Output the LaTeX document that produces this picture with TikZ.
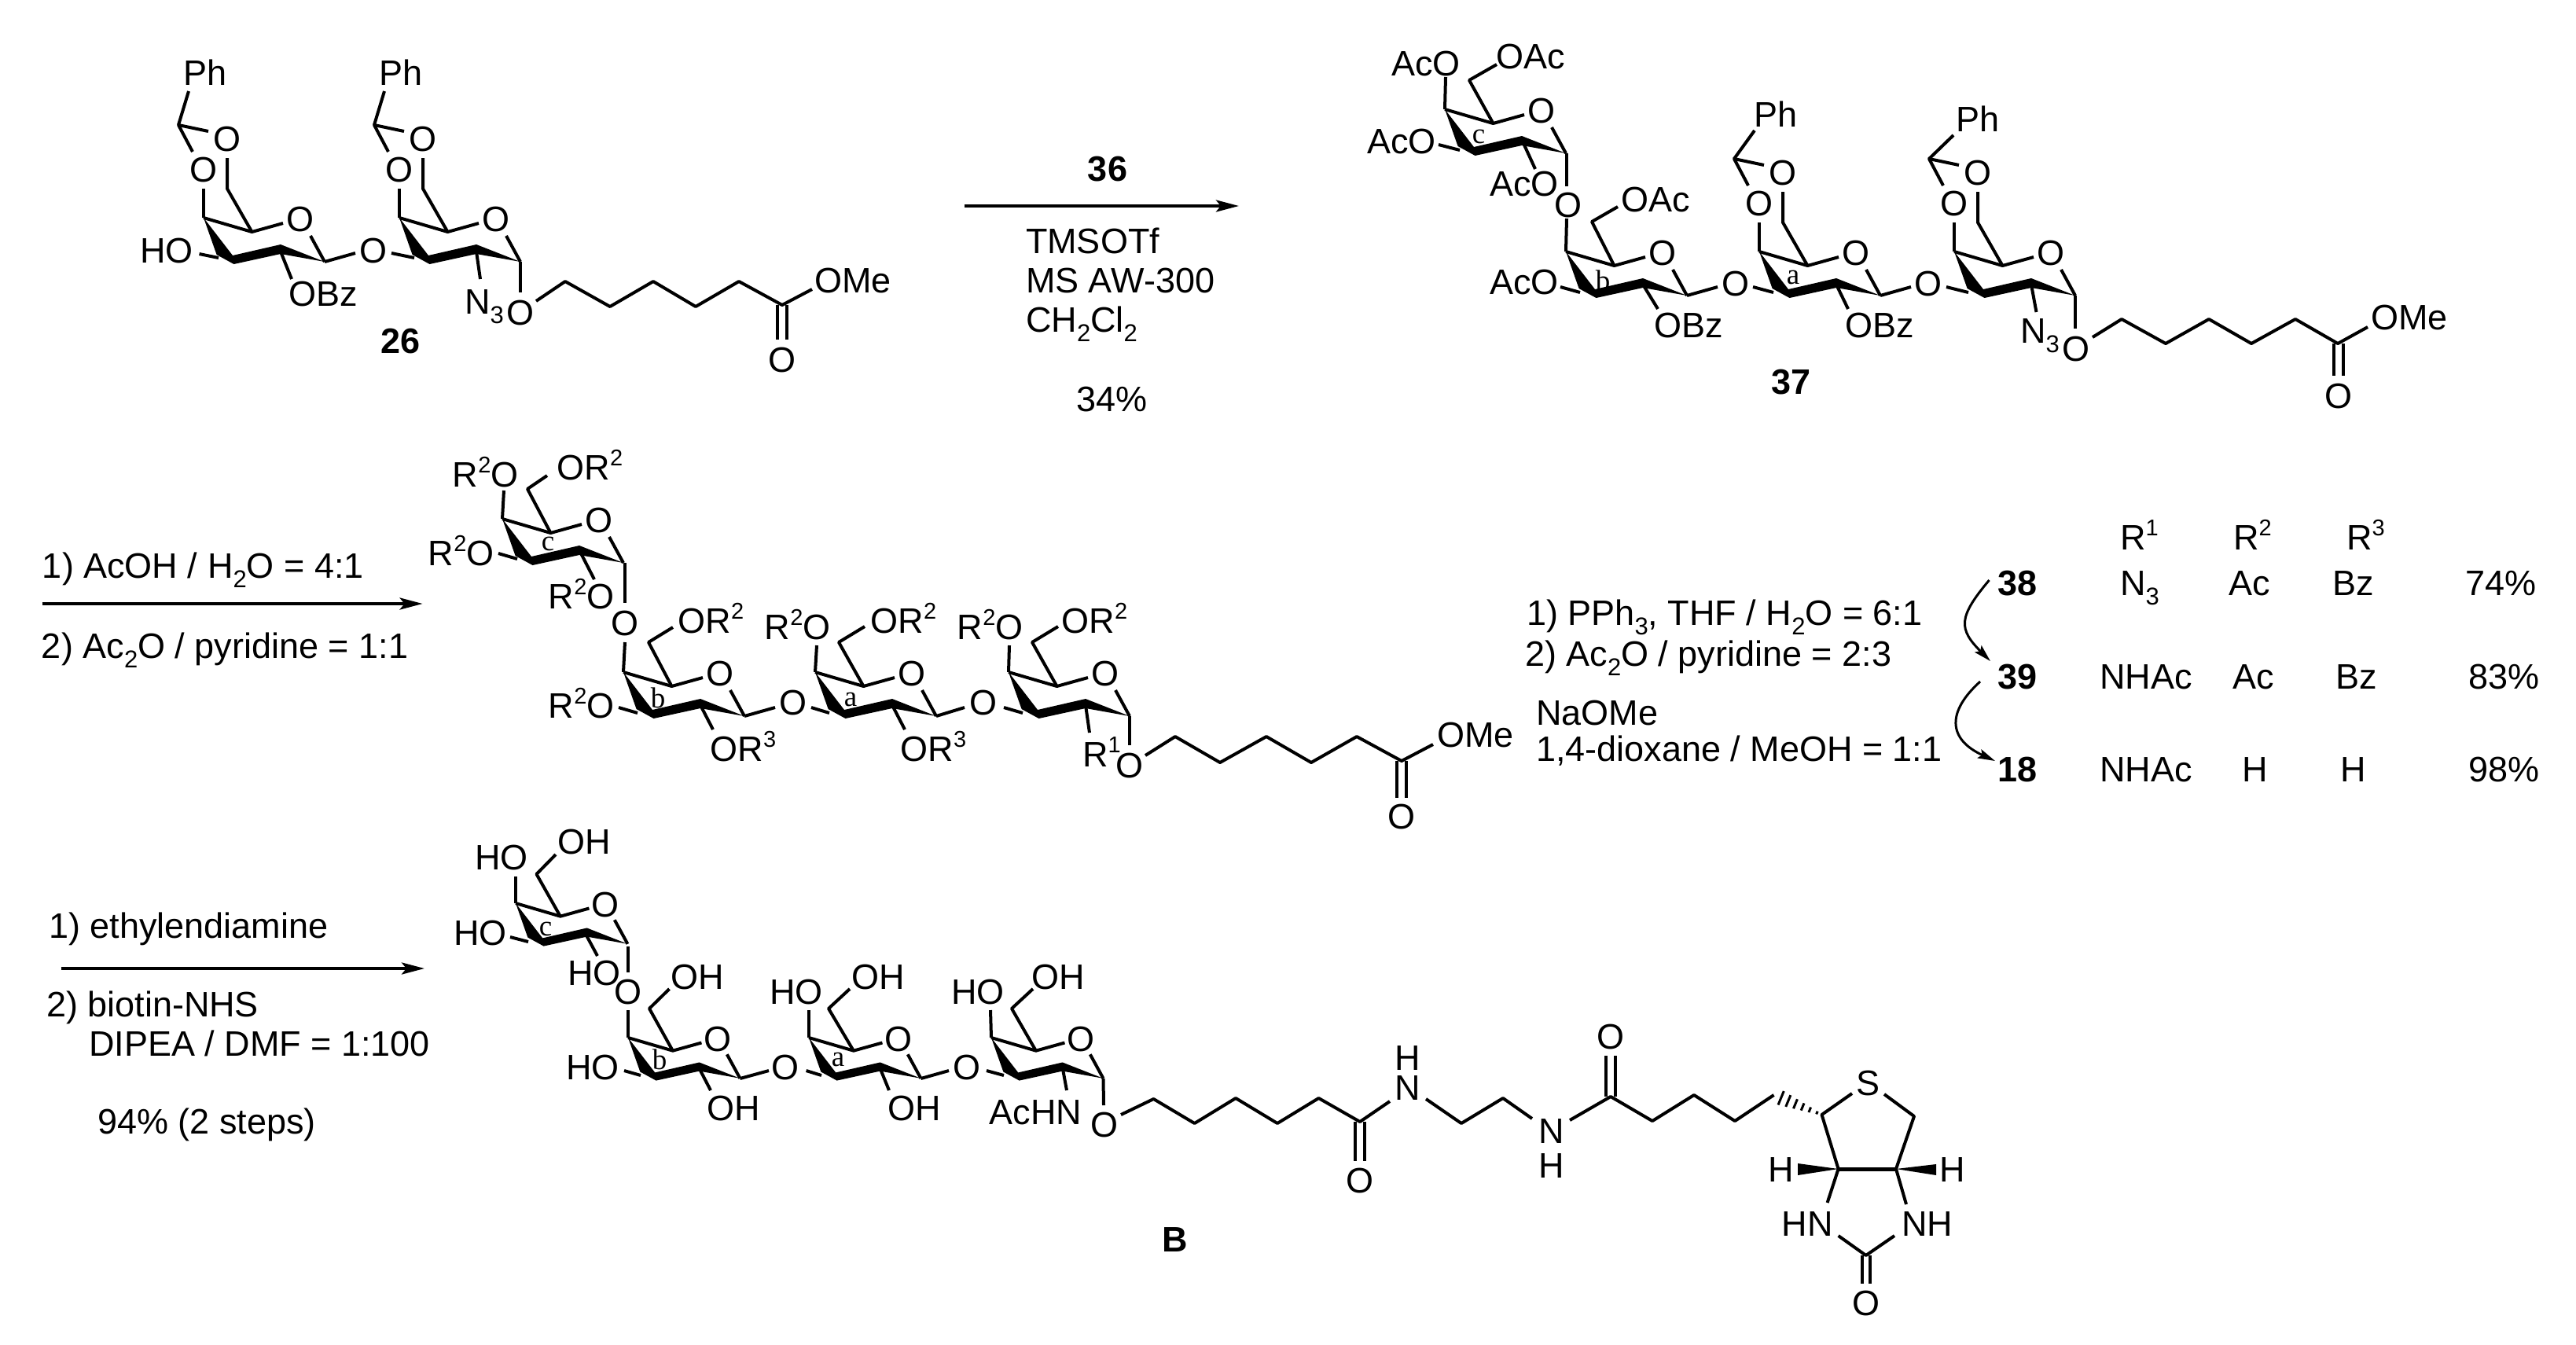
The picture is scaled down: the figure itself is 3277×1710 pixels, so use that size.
\documentclass[tikz,border=0pt]{standalone}
\usepackage{fontspec}
\setmainfont{Liberation Sans}
\newfontfamily\abcfont{Liberation Serif}
\usetikzlibrary{arrows.meta}
\newcounter{lb}
\newcommand\sbs[1]{\raisebox{-6pt}{\fontsize{15.5}{15.5}\selectfont #1}}
\newcommand\sps[1]{\raisebox{9pt}{\fontsize{14.5}{14.5}\selectfont #1}}
\newcommand\txtW[3]{\stepcounter{lb}\node[lab,anchor=base west] (n\arabic{lb}) at ({#1},{#2}) {#3};}
\newcommand\txtE[3]{\stepcounter{lb}\node[lab,anchor=base east] (n\arabic{lb}) at ({#1},{#2}) {#3};}
\newcommand\txtC[3]{\stepcounter{lb}\node[lab,anchor=base] (n\arabic{lb}) at ({#1},{#2}) {#3};}
\newcommand\labC[3]{\txtC{#1}{#2+16.5}{#3}}
\newcommand\labE[3]{\txtE{#1+17.5}{#2+16.5}{#3}}
\newcommand\labW[3]{\txtW{#1-17.5}{#2+16.5}{#3}}
\newcommand\abc[3]{\stepcounter{lb}\node[lab,font=\abcfont\fontsize{18.5}{18.5}\selectfont] (n\arabic{lb}) at ({#1},{#2}) {#3};}
\newcommand\ringcore[3]{%
  \begin{scope}[shift={(#1,#2)},scale=#3]
    \fill (0,0)--(37,48)--(98,34)--(154,56)--(98,46)--(38.5,59)--(16.6,47)--cycle;
    \draw[bond] (0,0)--(61.5,18)--(101,7);
    \draw[bond] (136,23)--(154,56);
  \end{scope}
  \labC{#1+123*#3}{#2+1*#3}{O}}
% benzylidene: ring origin x,y; Ph label; Ph bond end
\newcommand\bnz[6]{%
  \begin{scope}[shift={(#1,#2)}]
    \draw[bond] (0,0)--(0,-37);
    \draw[bond] (61.5,18)--(30,-37)--(30,-76);
    \draw[bond] (-14,-84)--(-32,-118)--(6,-110);
    \draw[bond] (-32,-118)--(#5,#6);
    \labC{30}{-101}{O}
    \labC{0}{-62}{O}
    \labC{#3}{#4}{Ph}
  \end{scope}}
\tikzset{
  bond/.style={line width=2pt,line join=round},
  lab/.style={inner sep=0pt,outer sep=0pt,font=\fontsize{22.5}{22.5}\selectfont},
  rxn/.style={line width=2pt,-{Stealth[length=14.5pt,width=7.5pt,inset=3pt]}},
  curl/.style={line width=1.5pt,-{Stealth[length=11pt,width=6pt,inset=2pt]}}
}
\begin{document}
\begin{tikzpicture}[x=0.5pt,y=-0.5pt]
\useasboundingbox (0,0) rectangle (3277,1710);
\fill[white] (0,0) rectangle (3277,1710);

% ---------- 26
\ringcore{259}{277}{1}
\ringcore{508}{277}{1}
\bnz{259}{277}{2}{-185}{-19}{-161}
\bnz{508}{277}{2}{-185}{-19}{-161}
\labE{228}{318}{HO}
\draw[bond] (253.5,323)--(278,328);
\draw[bond] (357,320)--(371,355);
\labW{385}{373}{OBz}
\draw[bond] (413,333)--(452,322);
\labC{475}{318}{O}
\draw[bond] (498,322)--(527,328);
\draw[bond] (606,320)--(611,355);
\txtW{591}{399.5}{N\sbs{3}}
\draw[bond] (662,333)--(662,372);
\labC{662}{397}{O}
\draw[bond] (682,383)--(719,358)--(776,390)--(831,358)--(885,390)--(940,358)--(995,388)--(1033,368);
\txtW{1036}{372.5}{OMe}
\draw[bond] (989,388)--(989,432);
\draw[bond] (1001,388)--(1001,432);
\labC{995}{457}{O}
\txtC{510}{449}{\bfseries 26}

% ---------- first arrow
\coordinate (a1s) at (1227,262);
\coordinate (a1e) at (1576,262);
\draw[rxn] (a1s)--(a1e);
\txtC{1409}{230}{\bfseries 36}
\txtW{1305}{322}{TMSOTf}
\txtW{1305}{372}{MS AW-300}
\txtW{1305}{422}{CH\sbs{2}Cl\sbs{2}}
\txtW{1369}{523}{34\%}

% ---------- 37
\ringcore{1838}{139}{1}
\ringcore{1992}{320}{1}
\ringcore{2238}{320}{1}
\ringcore{2486}{320}{1}
\bnz{2238}{320}{21}{-175}{-6}{-154}
\bnz{2486}{320}{30}{-169}{-1}{-148}
\labE{1840}{80}{AcO}
\draw[bond] (1839,98)--(1838,139);
\draw[bond] (1899.5,157)--(1869,102)--(1904,82);
\labW{1921}{71}{OAc}
\labE{1809}{179}{AcO}
\draw[bond] (1830,184)--(1857,191);
\draw[bond] (1937,180)--(1953,215);
\labE{1965}{233}{AcO}
\draw[bond] (1993,195)--(1993,237);
\labC{1995}{260}{O}
\draw[bond] (1993,278)--(1992,320);
\draw[bond] (2053.5,338)--(2025,282)--(2058,263);
\labW{2080}{253}{OAc}
\labE{1965}{358}{AcO}
\draw[bond] (1985,365)--(2010,372);
\draw[bond] (2090,362)--(2109,393);
\labW{2122}{413}{OBz}
\draw[bond] (2146,376)--(2185,365);
\labC{2208}{360}{O}
\draw[bond] (2230,365)--(2256,372);
\draw[bond] (2336,362)--(2351,393);
\labW{2365}{413}{OBz}
\draw[bond] (2392,376)--(2431,365);
\labC{2453}{360}{O}
\draw[bond] (2476,365)--(2504,372);
\draw[bond] (2584,362)--(2590.5,397);
\txtW{2570}{436.5}{N\sbs{3}}
\draw[bond] (2640,376)--(2640,418);
\labC{2641}{443}{O}
\draw[bond] (2662,429)--(2699,406)--(2755,437)--(2810,406)--(2864,437)--(2920,406)--(2974,437)--(3012,416);
\txtW{3016}{419.5}{OMe}
\draw[bond] (2969,437)--(2969,478);
\draw[bond] (2981,437)--(2981,478);
\labC{2975}{503}{O}
\abc{1881}{174}{c}
\abc{2039}{357}{b}
\abc{2281}{353}{a}
\txtC{2278}{501}{\bfseries 37}

% ---------- second arrow
\coordinate (a2s) at (53.5,768);
\coordinate (a2e) at (537.6,768);
\draw[rxn] (a2s)--(a2e);
\txtW{54}{735}{1) AcOH / H\sbs{2}O = 4:1}
\txtW{53}{837}{2) Ac\sbs{2}O / pyridine = 1:1}

% ---------- R-series
\ringcore{639}{660}{1}
\ringcore{793}{855}{1}
\ringcore{1037}{855}{1}
\ringcore{1283}{855}{1}
\labE{642}{603}{R\sps{2}O}
\draw[bond] (641,624)--(639,660);
\draw[bond] (700.5,678)--(671,622)--(696,605);
\labW{726}{594}{OR\sps{2}}
\labE{611}{703}{R\sps{2}O}
\draw[bond] (634,704)--(658,711);
\draw[bond] (737,700)--(756,737);
\labE{764}{758}{R\sps{2}O}
\draw[bond] (795,716)--(795,767);
\labC{795}{792}{O}
\draw[bond] (795,817)--(793,855);
\draw[bond] (854.5,873)--(825,817)--(856,798);
\labW{880}{789}{OR\sps{2}}
\labE{764}{897}{R\sps{2}O}
\draw[bond] (787,900)--(811,907);
\draw[bond] (891,897)--(907,928);
\labW{921}{952}{OR\sps{3}}
\draw[bond] (947,911)--(986,900);
\labC{1009}{893}{O}
\draw[bond] (1032,900)--(1055,907);
\labE{1039}{797}{R\sps{2}O}
\draw[bond] (1039,821)--(1037,855);
\draw[bond] (1098.5,873)--(1067,817)--(1100,797);
\labW{1125}{789}{OR\sps{2}}
\draw[bond] (1135,897)--(1151,928);
\labW{1163}{952}{OR\sps{3}}
\draw[bond] (1191,911)--(1227,900);
\labC{1251}{893}{O}
\draw[bond] (1277,900)--(1301,907);
\labE{1284}{797}{R\sps{2}O}
\draw[bond] (1284,821)--(1283,855);
\draw[bond] (1344.5,873)--(1313,817)--(1346,797);
\labW{1368}{789}{OR\sps{2}}
\draw[bond] (1381,897)--(1386,932);
\txtW{1377}{975}{R\sps{1}}
\draw[bond] (1437,911)--(1437,948);
\labC{1437}{973}{O}
\draw[bond] (1457,961)--(1495,937)--(1552,970)--(1611,937)--(1668,970)--(1726,937)--(1783,968)--(1823,947);
\txtW{1828}{950}{OMe}
\draw[bond] (1777,968)--(1777,1015);
\draw[bond] (1789,968)--(1789,1015);
\labC{1783}{1038}{O}
\abc{697}{692}{c}
\abc{837}{888}{b}
\abc{1082}{890}{a}

% ---------- table
\txtW{1942}{795}{1) PPh\sbs{3}, THF / H\sbs{2}O = 6:1}
\txtW{1940}{847}{2) Ac\sbs{2}O / pyridine = 2:3}
\txtW{1954}{922}{NaOMe}
\txtW{1954}{968}{1,4-dioxane / MeOH = 1:1}
\txtW{2697}{699}{R\sps{1}}
\txtW{2841}{699}{R\sps{2}}
\txtW{2985}{699}{R\sps{3}}
\txtW{2541}{757}{\bfseries 38}
\txtW{2541}{876}{\bfseries 39}
\txtW{2541}{994}{\bfseries 18}
\txtW{2697}{757}{N\sbs{3}}
\txtW{2835}{757}{Ac}
\txtW{2967}{757}{Bz}
\txtW{3136}{757}{74\%}
\txtW{2671}{876}{NHAc}
\txtW{2840}{876}{Ac}
\txtW{2971}{876}{Bz}
\txtW{3140}{876}{83\%}
\txtW{2671}{994}{NHAc}
\txtC{2869}{994}{H}
\txtC{2994}{994}{H}
\txtW{3140}{994}{98\%}
\coordinate (c1s) at (2530.5,738);
\coordinate (c1e) at (2532,841);
\coordinate (c2s) at (2519,867);
\coordinate (c2e) at (2538,968);
\draw[curl] (c1s) .. controls (2491,785) and (2491,800) .. (c1e);
\draw[curl] (c2s) .. controls (2477,905) and (2477,940) .. (c2e);

% ---------- third arrow
\coordinate (a3s) at (77.6,1232);
\coordinate (a3e) at (540,1232);
\draw[rxn] (a3s)--(a3e);
\txtW{62}{1193}{1) ethylendiamine}
\txtW{59}{1293}{2) biotin-NHS}
\txtW{113}{1343}{DIPEA / DMF = 1:100}
\txtW{124}{1442}{94\% (2 steps)}

% ---------- B
\ringcore{656}{1149}{0.925}
\ringcore{799}{1320}{0.925}
\ringcore{1029}{1320}{0.925}
\ringcore{1261}{1320}{0.925}
\labE{654}{1090}{HO}
\draw[bond] (656,1115)--(656,1149);
\draw[bond] (713,1166)--(682.5,1112)--(707,1087);
\labW{727}{1070}{OH}
\labE{627}{1186}{HO}
\draw[bond] (649,1192)--(672,1198);
\draw[bond] (746,1190)--(760,1216);
\labE{772}{1237}{HO}
\draw[bond] (799,1204)--(799,1237);
\labC{799}{1261}{O}
\draw[bond] (799,1285)--(799,1320);
\draw[bond] (856,1337)--(826,1283)--(851.5,1258);
\labW{870.6}{1242}{OH}
\labE{770.5}{1357}{HO}
\draw[bond] (794,1362)--(815,1368);
\draw[bond] (890,1360)--(904,1387);
\labW{917}{1409}{OH}
\draw[bond] (941.5,1372)--(978,1362);
\labC{999}{1357}{O}
\draw[bond] (1025.6,1362)--(1045,1368);
\labE{1029}{1261}{HO}
\draw[bond] (1029,1285)--(1029,1320);
\draw[bond] (1086,1337)--(1054,1283)--(1081,1258);
\labW{1101}{1242}{OH}
\draw[bond] (1120,1360)--(1131,1387);
\labW{1147}{1409}{OH}
\draw[bond] (1171.5,1372)--(1207,1362);
\labC{1230}{1357}{O}
\draw[bond] (1255,1362)--(1277,1368);
\labE{1260}{1261}{HO}
\draw[bond] (1260,1285)--(1261,1320);
\draw[bond] (1318,1337)--(1287,1283)--(1314,1258);
\labW{1330}{1242}{OH}
\draw[bond] (1352,1360)--(1357,1387);
\txtE{1376}{1430}{AcHN}
\draw[bond] (1403.5,1372)--(1404,1406);
\labC{1405}{1430}{O}
\draw[bond] (1426,1418)--(1467.5,1398)--(1519.6,1429)--(1572,1397)--(1625,1429)--(1677.5,1397)--(1730,1427)--(1768,1401);
\labC{1791}{1383}{N}
\labC{1791}{1345}{H}
\draw[bond] (1724,1427)--(1724,1477);
\draw[bond] (1736,1427)--(1736,1477);
\labC{1730}{1501}{O}
\draw[bond] (1814,1398)--(1859,1429)--(1912,1397)--(1949,1423);
\labC{1974}{1438}{N}
\labC{1974}{1482}{H}
\draw[bond] (1997,1425)--(2049,1395)--(2102,1426)--(2155,1393)--(2207,1426)--(2256.5,1393);
\draw[bond] (2043,1395)--(2043,1343);
\draw[bond] (2055,1395)--(2055,1343);
\labC{2049}{1318}{O}
\foreach \t/\l in {0.1/2,0.25/3.5,0.4/5,0.55/6.5,0.7/8,0.85/9.5}{
  \draw[line width=1.5pt] ({2317.5-61*\t-.38*\l},{1418-25*\t+.92*\l})--({2317.5-61*\t+.38*\l},{1418-25*\t-.92*\l});
}
\draw[bond] (2356,1391)--(2317.5,1418)--(2338.6,1487);
\labC{2376}{1377}{S}
\draw[bond] (2397,1392)--(2435,1420)--(2412,1487);
\draw[line width=2.5pt] (2338.6,1487)--(2412,1487);
\fill (2338.6,1487)--(2287,1480)--(2287,1495)--cycle;
\fill (2412,1487)--(2463,1481)--(2463,1495)--cycle;
\labC{2266}{1487}{H}
\labC{2484}{1487}{H}
\draw[bond] (2338.6,1487)--(2324.6,1530);
\draw[bond] (2412,1487)--(2425,1532);
\txtE{2331.6}{1572}{HN}
\txtW{2419}{1572}{NH}
\draw[bond] (2338.6,1572)--(2373.7,1597)--(2410,1572);
\draw[bond] (2368.5,1597)--(2368.5,1633);
\draw[bond] (2379,1597)--(2379,1633);
\labC{2373.7}{1657}{O}
\abc{694}{1182}{c}
\abc{839}{1348}{b}
\abc{1066}{1348}{a}
\txtC{1495}{1592}{\bfseries B}
\end{tikzpicture}
\end{document}
